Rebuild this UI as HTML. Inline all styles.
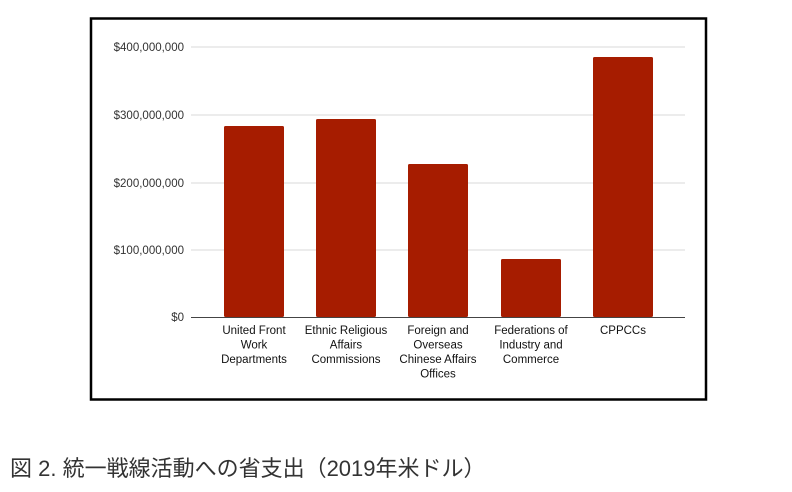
<!DOCTYPE html>
<html><head><meta charset="utf-8"><style>
html,body{margin:0;padding:0;background:#fff;width:792px;height:492px;overflow:hidden}
</style></head><body>
<svg width="792" height="492" xmlns="http://www.w3.org/2000/svg" style="position:absolute;left:0;top:0">
<rect x="91" y="18.5" width="615" height="381" fill="#fff" stroke="#000" stroke-width="2.5"/>
<g stroke="#d9d9d9" stroke-width="1">
<line x1="191" x2="685" y1="47" y2="47"/>
<line x1="191" x2="685" y1="115" y2="115"/>
<line x1="191" x2="685" y1="183" y2="183"/>
<line x1="191" x2="685" y1="250" y2="250"/>
</g>
<line x1="191" x2="685" y1="317.5" y2="317.5" stroke="#444" stroke-width="1"/>
<g font-family="Liberation Sans, sans-serif" font-size="11.5" fill="#333" text-anchor="end">
<text x="184" y="51">$400,000,000</text>
<text x="184" y="119">$300,000,000</text>
<text x="184" y="187">$200,000,000</text>
<text x="184" y="254">$100,000,000</text>
<text x="184" y="321">$0</text>
</g>
<g fill="#a61c00">
<rect x="224" y="126" width="60" height="191" rx="1.5"/>
<rect x="316" y="119" width="60" height="198" rx="1.5"/>
<rect x="408" y="164" width="60" height="153" rx="1.5"/>
<rect x="501" y="259" width="60" height="58" rx="1.5"/>
<rect x="593" y="57" width="60" height="260" rx="1.5"/>
</g>
<g font-family="Liberation Sans, sans-serif" font-size="11.5" fill="#111" text-anchor="middle">
<text x="254" y="334">United Front</text><text x="254" y="348.5">Work</text><text x="254" y="363">Departments</text>
<text x="346" y="334">Ethnic Religious</text><text x="346" y="348.5">Affairs</text><text x="346" y="363">Commissions</text>
<text x="438" y="334">Foreign and</text><text x="438" y="348.5">Overseas</text><text x="438" y="363">Chinese Affairs</text><text x="438" y="377.5">Offices</text>
<text x="531" y="334">Federations of</text><text x="531" y="348.5">Industry and</text><text x="531" y="363">Commerce</text>
<text x="623" y="334">CPPCCs</text>
</g>
<text x="10" y="476" font-family="Liberation Sans, Noto Sans CJK JP, sans-serif" font-size="22" fill="#333">図 2. 統一戦線活動への省支出（2019年米ドル）</text>
</svg>
</body></html>
